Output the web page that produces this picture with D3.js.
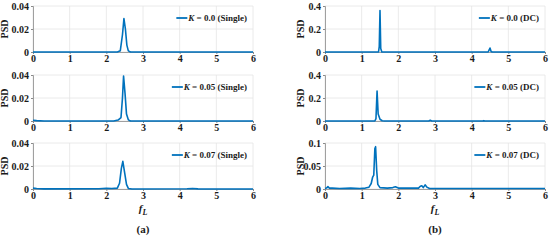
<!DOCTYPE html>
<html>
<head>
<meta charset="utf-8">
<script src="https://cdn.jsdelivr.net/npm/d3@7"></script>
<style>
  body { margin: 0; background: #fff; }
  text { font-family: "Liberation Serif", "Times New Roman", serif; font-weight: bold; }
</style>
</head>
<body>
<div class="canvas"></div>
<script>
// x ticks shared by all panels
const xTicks = [0, 1, 2, 3, 4, 5, 6];

// (a) single excitation
const singleK0 = [[0, 0], [2.3, 0], [2.38, 0.001], [2.44, 0.015], [2.48, 0.029], [2.52, 0.02], [2.56, 0.006], [2.6, 0.001], [2.66, 0], [6, 0]];
const singleK005 = [[0, 0.0006], [0.1, 0.0003], [0.3, 0], [2.2, 0], [2.32, 0.0008], [2.4, 0.003], [2.44, 0.02], [2.47, 0.039], [2.51, 0.024], [2.55, 0.006], [2.6, 0.001], [2.66, 0], [6, 0]];
const singleK007 = [[0, 0.0008], [0.1, 0.0005], [0.3, 0.0001], [1.8, 0.0002], [2.0, 0.0007], [2.15, 0.0004], [2.3, 0.0008], [2.36, 0.005], [2.41, 0.018], [2.45, 0.024], [2.5, 0.014], [2.55, 0.004], [2.6, 0.0005], [2.7, 0], [4.2, 0.0002], [4.35, 0.0005], [4.5, 0.0001], [6, 0]];

// (b) DC excitation
const dcK0 = [[0, 0], [1.46, 0], [1.48, 0.05], [1.5, 0.36], [1.52, 0.03], [1.55, 0], [4.45, 0], [4.48, 0.02], [4.5, 0.035], [4.53, 0.005], [4.56, 0], [6, 0]];
const dcK005 = [[0, 0], [1.36, 0], [1.39, 0.02], [1.42, 0.26], [1.45, 0.06], [1.5, 0.015], [1.56, 0.002], [1.62, 0], [2.83, 0], [2.87, 0.006], [2.91, 0], [4.3, 0], [4.33, 0.003], [4.36, 0], [6, 0]];
const dcK007 = [[0, 0.001], [0.04, 0.002], [0.08, 0.005], [0.12, 0.002], [0.2, 0.002], [0.4, 0.001], [0.7, 0.002], [0.95, 0.001], [1.1, 0.002], [1.2, 0.004], [1.26, 0.012], [1.3, 0.026], [1.33, 0.03], [1.36, 0.088], [1.38, 0.092], [1.41, 0.04], [1.44, 0.01], [1.5, 0.003], [1.7, 0.002], [1.85, 0.003], [1.92, 0.005], [2.0, 0.002], [2.3, 0.002], [2.55, 0.002], [2.6, 0.006], [2.64, 0.007], [2.68, 0.003], [2.73, 0.009], [2.78, 0.004], [2.85, 0.001], [3.2, 0.001], [4, 0.001], [6, 0.001]];

const panels = [
  { col: 0, row: 0, data: singleK0, yTicks: [0, 0.02, 0.04], yLabels: ['0', '0.02', '0.04'], k: '0.0', tag: 'Single' },
  { col: 0, row: 1, data: singleK005, yTicks: [0, 0.02, 0.04], yLabels: ['0', '0.02', '0.04'], k: '0.05', tag: 'Single' },
  { col: 0, row: 2, data: singleK007, yTicks: [0, 0.02, 0.04], yLabels: ['0', '0.02', '0.04'], k: '0.07', tag: 'Single' },
  { col: 1, row: 0, data: dcK0, yTicks: [0, 0.2, 0.4], yLabels: ['0', '0.2', '0.4'], k: '0.0', tag: 'DC' },
  { col: 1, row: 1, data: dcK005, yTicks: [0, 0.2, 0.4], yLabels: ['0', '0.2', '0.4'], k: '0.05', tag: 'DC' },
  { col: 1, row: 2, data: dcK007, yTicks: [0, 0.05, 0.1], yLabels: ['0', '0.05', '0.1'], k: '0.07', tag: 'DC' }
];

const svg = d3.select('.canvas')
  .append('svg')
  .attr('width', 550)
  .attr('height', 241);

const colLeft = [33, 325];
const rowTop = [6, 75, 143];
const graphWidth = 220;
const graphHeight = 46;
const blue = '#0072BD';

panels.forEach(p => {
  const g = svg.append('g')
    .attr('transform', `translate(${colLeft[p.col]}, ${rowTop[p.row]})`);

  const x = d3.scaleLinear().domain([0, 6]).range([0, graphWidth]);
  const y = d3.scaleLinear().domain([0, p.yTicks[p.yTicks.length - 1]]).range([graphHeight, 0]);

  // grid
  g.selectAll('.vgrid').data(xTicks).enter().append('line')
    .attr('x1', d => x(d)).attr('x2', d => x(d))
    .attr('y1', 0).attr('y2', graphHeight)
    .attr('stroke', '#e4e4e4').attr('stroke-width', 0.8);
  g.selectAll('.hgrid').data(p.yTicks).enter().append('line')
    .attr('x1', 0).attr('x2', graphWidth)
    .attr('y1', d => y(d)).attr('y2', d => y(d))
    .attr('stroke', '#e4e4e4').attr('stroke-width', 0.8);

  // axes
  const xAxis = d3.axisBottom(x).tickValues(xTicks).tickFormat(d3.format('d')).tickSize(2).tickPadding(1);
  const yAxis = d3.axisLeft(y).tickValues(p.yTicks).tickFormat((d, i) => p.yLabels[i]).tickSize(2).tickPadding(2);

  const xg = g.append('g').attr('transform', `translate(0, ${graphHeight})`).call(xAxis);
  const yg = g.append('g').call(yAxis);
  [xg, yg].forEach(a => {
    a.select('.domain').attr('stroke', '#8a8a8a').attr('stroke-width', 0.8);
    a.selectAll('.tick line').attr('stroke', '#8a8a8a');
    a.selectAll('.tick text')
      .attr('fill', '#1a1a1a')
      .style('font-family', '"Liberation Serif", serif')
      .style('font-weight', 'bold')
      .style('font-size', '10px');
  });

  // PSD label
  g.append('text')
    .attr('transform', `translate(${p.col === 0 ? -25 : -21}, ${graphHeight / 2}) rotate(-90)`)
    .attr('text-anchor', 'middle')
    .attr('font-size', 10)
    .attr('fill', '#1a1a1a')
    .text('PSD');

  // line
  const line = d3.line().x(d => x(d[0])).y(d => y(d[1]));
  g.append('path')
    .datum(p.data)
    .attr('fill', 'none')
    .attr('stroke', blue)
    .attr('stroke-width', 1.6)
    .attr('stroke-linejoin', 'round')
    .attr('d', line);

  // legend
  const lg = g.append('g').attr('transform', `translate(${graphWidth - 6}, 12)`);
  const lt = lg.append('text')
    .attr('text-anchor', 'end')
    .attr('dy', '0.35em')
    .attr('font-size', 9)
    .attr('fill', '#1a1a1a');
  lt.append('tspan').attr('font-style', 'italic').text('K');
  lt.append('tspan').text(` = ${p.k} (${p.tag})`);
  const w = lt.node().getComputedTextLength();
  lg.append('line')
    .attr('x1', -w - 12).attr('x2', -w - 1)
    .attr('y1', 0).attr('y2', 0)
    .attr('stroke', blue).attr('stroke-width', 1.8);
});

// x labels and panel captions
[0, 1].forEach(c => {
  const cx = colLeft[c] + graphWidth / 2;
  const fl = svg.append('text')
    .attr('x', cx).attr('y', 212)
    .attr('text-anchor', 'middle')
    .attr('font-size', 11)
    .attr('fill', '#1a1a1a');
  fl.append('tspan').attr('font-style', 'italic').text('f');
  fl.append('tspan').attr('font-style', 'italic').attr('font-size', 8).attr('dy', 3).text('L');

  svg.append('text')
    .attr('x', cx).attr('y', 233)
    .attr('text-anchor', 'middle')
    .attr('font-size', 11)
    .attr('fill', '#1a1a1a')
    .text(c === 0 ? '(a)' : '(b)');
});
</script>
</body>
</html>
